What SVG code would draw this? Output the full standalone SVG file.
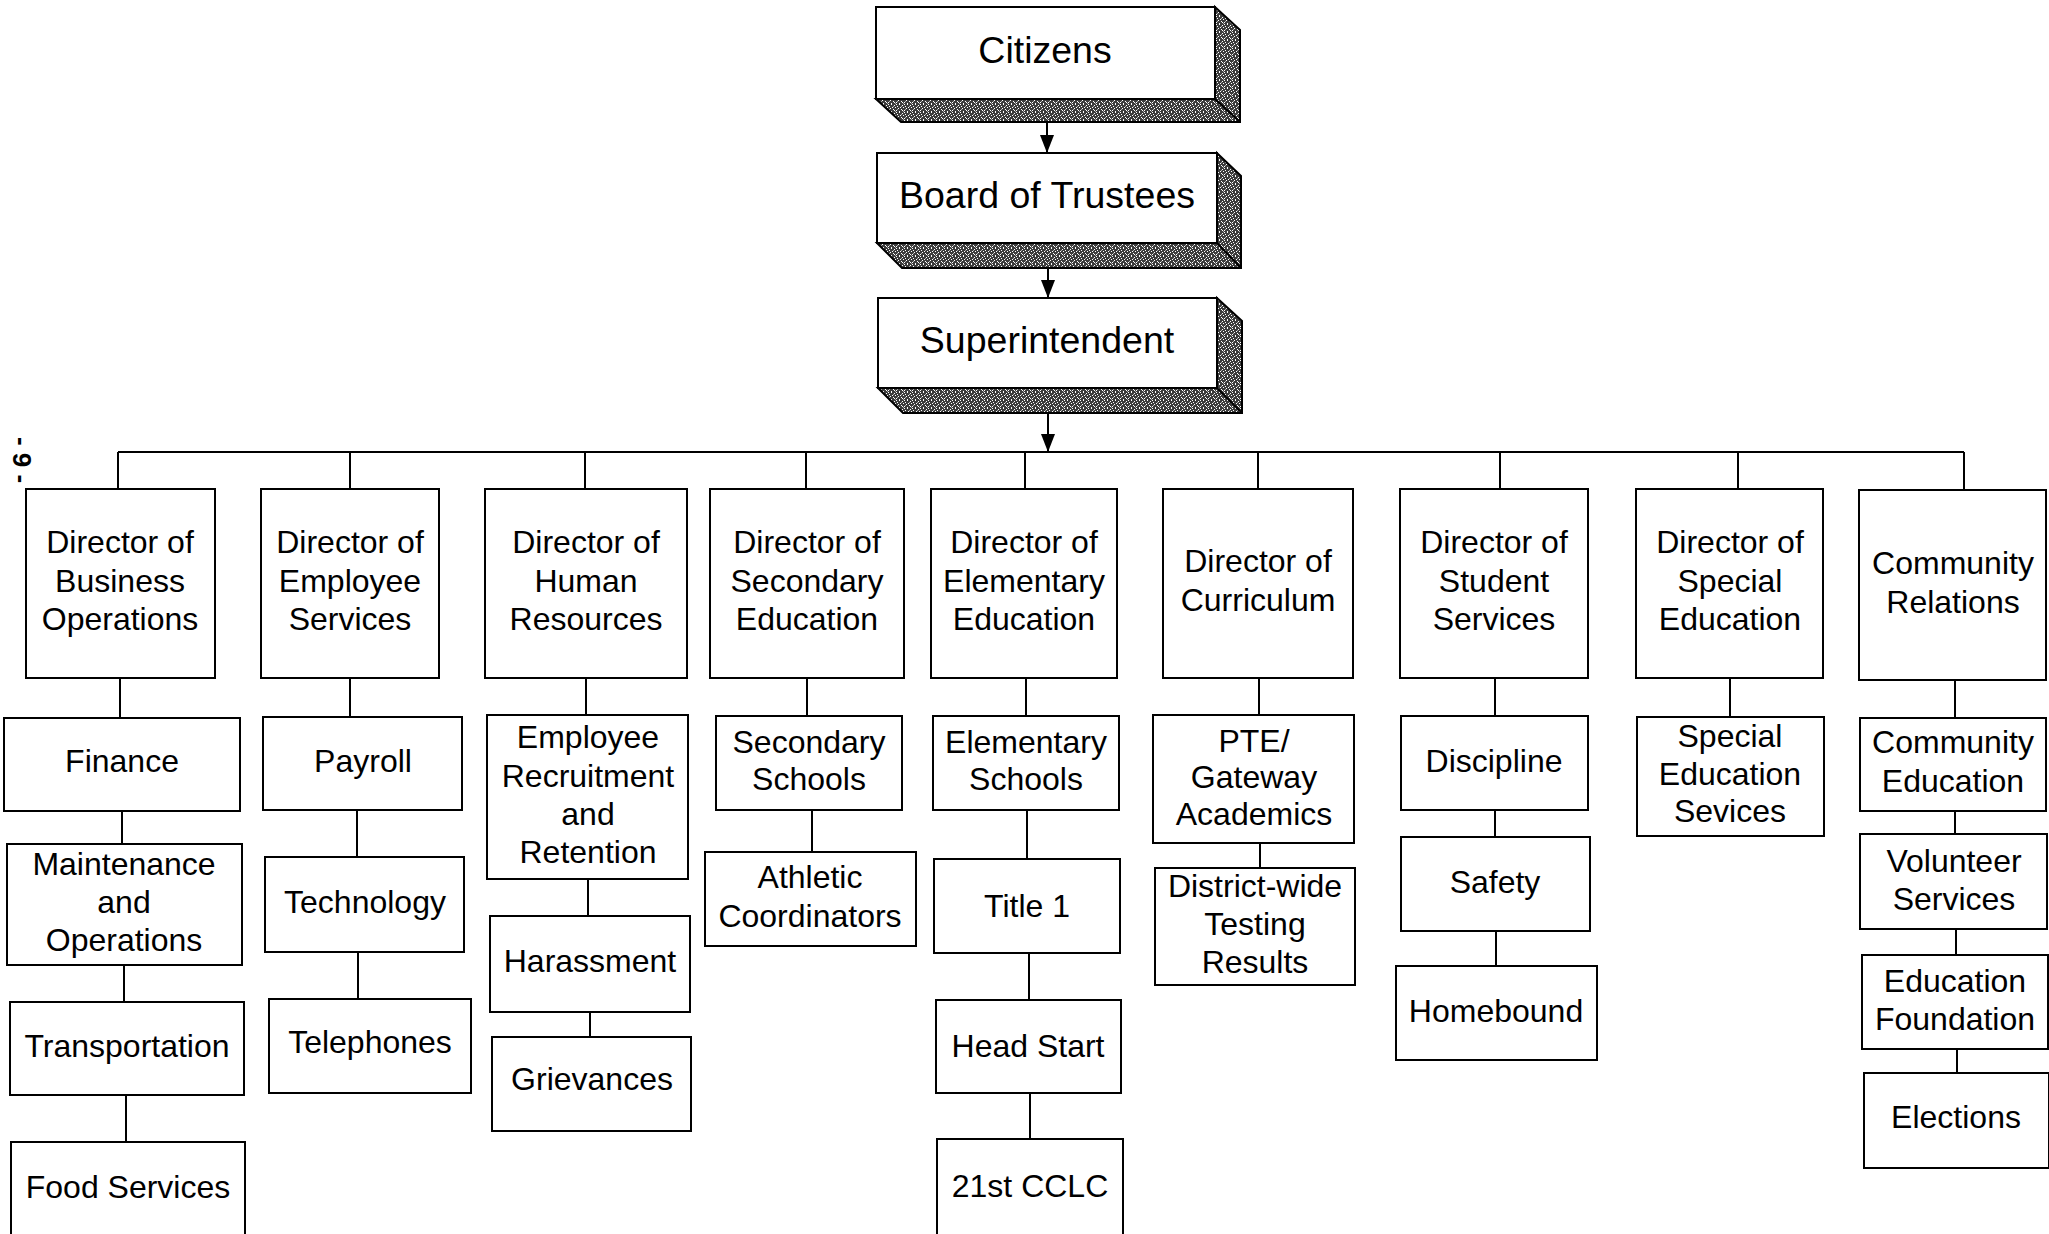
<svg xmlns="http://www.w3.org/2000/svg" width="2049" height="1234" viewBox="0 0 2049 1234">
<style>
.bx{fill:#fff;stroke:#000;stroke-width:2}
.t{font-family:"Liberation Sans",Arial,sans-serif;font-size:32px;fill:#000;text-anchor:middle}
.tt{font-family:"Liberation Sans",Arial,sans-serif;font-size:37.5px;fill:#000;text-anchor:middle}
.ln{stroke:#000;stroke-width:2;fill:none}
.sh{fill:url(#noise);stroke:#000;stroke-width:2;stroke-linejoin:miter}
</style>
<defs>
<pattern id="noise" width="8" height="8" patternUnits="userSpaceOnUse">
<rect width="8" height="8" fill="#3c3c3c"/>
<rect x="0" y="0" width="1" height="1" fill="#fff"/>
<rect x="3" y="0" width="1" height="1" fill="#fff"/>
<rect x="6" y="1" width="1" height="1" fill="#fff"/>
<rect x="1" y="2" width="1" height="1" fill="#fff"/>
<rect x="4" y="3" width="1" height="1" fill="#fff"/>
<rect x="7" y="3" width="1" height="1" fill="#fff"/>
<rect x="2" y="4" width="1" height="1" fill="#fff"/>
<rect x="5" y="5" width="1" height="1" fill="#fff"/>
<rect x="0" y="6" width="1" height="1" fill="#fff"/>
<rect x="3" y="7" width="1" height="1" fill="#fff"/>
<rect x="6" y="6" width="1" height="1" fill="#fff"/>
<rect x="1" y="5" width="1" height="1" fill="#aaa"/>
<rect x="5" y="2" width="1" height="1" fill="#aaa"/>
<rect x="7" y="7" width="1" height="1" fill="#aaa"/>
</pattern>
<marker id="arr" viewBox="0 0 18 14" refX="18" refY="7" markerWidth="18" markerHeight="14" markerUnits="userSpaceOnUse" orient="auto">
<path d="M0,0 L18,7 L0,14 Z" fill="#000"/>
</marker>
</defs>

<text class="t" style="font-size:26px;font-weight:bold" transform="translate(20,460) rotate(90)" dominant-baseline="middle">- 9 -</text>

<g id="connectors">
<path class="ln" d="M1047,122 L1047,153" marker-end="url(#arr)"/>
<path class="ln" d="M1048,268 L1048,298" marker-end="url(#arr)"/>
<path class="ln" d="M1048,413 L1048,452" marker-end="url(#arr)"/>
<path class="ln" d="M118,452 H1964"/>
<path class="ln" d="M118,452 V489 M350,452 V489 M585,452 V489 M806,452 V489 M1025,452 V489 M1258,452 V489 M1500,452 V489 M1738,452 V489 M1964,452 V490"/>
<path class="ln" d="M120,678 V718 M122,811 V844 M124,965 V1002 M126,1095 V1142"/>
<path class="ln" d="M350,678 V717 M357,810 V857 M358,952 V999"/>
<path class="ln" d="M586,678 V715 M588,879 V916 M590,1012 V1037"/>
<path class="ln" d="M807,678 V716 M812,810 V852"/>
<path class="ln" d="M1026,678 V716 M1027,810 V859 M1029,953 V1000 M1030,1093 V1139"/>
<path class="ln" d="M1259,678 V715 M1260,843 V868"/>
<path class="ln" d="M1495,678 V716 M1495,810 V837 M1496,931 V966"/>
<path class="ln" d="M1730,678 V717"/>
<path class="ln" d="M1955,680 V718 M1955,811 V834 M1956,929 V955 M1957,1049 V1073"/>
</g>

<g id="citizens">
<path class="sh" d="M876,99 L901,122 L1240,122 L1240,30 L1215,7 L1215,99 Z"/>
<path class="ln" d="M1215,99 L1240,122"/>
<rect class="bx" x="876" y="7" width="339" height="92"/>
<text class="tt" x="1045" y="63">Citizens</text>
</g>
<g id="board">
<path class="sh" d="M877,243 L902,268 L1241,268 L1241,176 L1217,153 L1217,243 Z"/>
<path class="ln" d="M1217,243 L1241,268"/>
<rect class="bx" x="877" y="153" width="340" height="90"/>
<text class="tt" x="1047" y="208">Board of Trustees</text>
</g>
<g id="superintendent">
<path class="sh" d="M878,388 L903,413 L1242,413 L1242,321 L1217,298 L1217,388 Z"/>
<path class="ln" d="M1217,388 L1242,413"/>
<rect class="bx" x="878" y="298" width="339" height="90"/>
<text class="tt" x="1047" y="353">Superintendent</text>
</g>

<g id="dir-business">
<rect class="bx" x="26" y="489" width="189" height="189"/>
<text class="t" x="120" y="553">Director of</text>
<text class="t" x="120" y="592">Business</text>
<text class="t" x="120" y="630">Operations</text>
</g>
<g id="dir-employee">
<rect class="bx" x="261" y="489" width="178" height="189"/>
<text class="t" x="350" y="553">Director of</text>
<text class="t" x="350" y="592">Employee</text>
<text class="t" x="350" y="630">Services</text>
</g>
<g id="dir-hr">
<rect class="bx" x="485" y="489" width="202" height="189"/>
<text class="t" x="586" y="553">Director of</text>
<text class="t" x="586" y="592">Human</text>
<text class="t" x="586" y="630">Resources</text>
</g>
<g id="dir-secondary">
<rect class="bx" x="710" y="489" width="194" height="189"/>
<text class="t" x="807" y="553">Director of</text>
<text class="t" x="807" y="592">Secondary</text>
<text class="t" x="807" y="630">Education</text>
</g>
<g id="dir-elementary">
<rect class="bx" x="931" y="489" width="186" height="189"/>
<text class="t" x="1024" y="553">Director of</text>
<text class="t" x="1024" y="592">Elementary</text>
<text class="t" x="1024" y="630">Education</text>
</g>
<g id="dir-curriculum">
<rect class="bx" x="1163" y="489" width="190" height="189"/>
<text class="t" x="1258" y="572">Director of</text>
<text class="t" x="1258" y="611">Curriculum</text>
</g>
<g id="dir-student">
<rect class="bx" x="1400" y="489" width="188" height="189"/>
<text class="t" x="1494" y="553">Director of</text>
<text class="t" x="1494" y="592">Student</text>
<text class="t" x="1494" y="630">Services</text>
</g>
<g id="dir-special">
<rect class="bx" x="1636" y="489" width="187" height="189"/>
<text class="t" x="1730" y="553">Director of</text>
<text class="t" x="1730" y="592">Special</text>
<text class="t" x="1730" y="630">Education</text>
</g>
<g id="community-relations">
<rect class="bx" x="1859" y="490" width="187" height="190"/>
<text class="t" x="1953" y="574">Community</text>
<text class="t" x="1953" y="613">Relations</text>
</g>

<g id="finance">
<rect class="bx" x="4" y="718" width="236" height="93"/>
<text class="t" x="122" y="772">Finance</text>
</g>
<g id="maintenance">
<rect class="bx" x="7" y="844" width="235" height="121"/>
<text class="t" x="124" y="875">Maintenance</text>
<text class="t" x="124" y="913">and</text>
<text class="t" x="124" y="951">Operations</text>
</g>
<g id="transportation">
<rect class="bx" x="10" y="1002" width="234" height="93"/>
<text class="t" x="127" y="1057">Transportation</text>
</g>
<g id="food-services">
<rect class="bx" x="11" y="1142" width="234" height="100"/>
<text class="t" x="128" y="1198">Food Services</text>
</g>

<g id="payroll">
<rect class="bx" x="263" y="717" width="199" height="93"/>
<text class="t" x="363" y="772">Payroll</text>
</g>
<g id="technology">
<rect class="bx" x="265" y="857" width="199" height="95"/>
<text class="t" x="365" y="913">Technology</text>
</g>
<g id="telephones">
<rect class="bx" x="269" y="999" width="202" height="94"/>
<text class="t" x="370" y="1053">Telephones</text>
</g>

<g id="recruitment">
<rect class="bx" x="487" y="715" width="201" height="164"/>
<text class="t" x="588" y="748">Employee</text>
<text class="t" x="588" y="787">Recruitment</text>
<text class="t" x="588" y="825">and</text>
<text class="t" x="588" y="863">Retention</text>
</g>
<g id="harassment">
<rect class="bx" x="490" y="916" width="200" height="96"/>
<text class="t" x="590" y="972">Harassment</text>
</g>
<g id="grievances">
<rect class="bx" x="492" y="1037" width="199" height="94"/>
<text class="t" x="592" y="1090">Grievances</text>
</g>

<g id="secondary-schools">
<rect class="bx" x="716" y="716" width="186" height="94"/>
<text class="t" x="809" y="753">Secondary</text>
<text class="t" x="809" y="790">Schools</text>
</g>
<g id="athletic">
<rect class="bx" x="705" y="852" width="211" height="94"/>
<text class="t" x="810" y="888">Athletic</text>
<text class="t" x="810" y="927">Coordinators</text>
</g>

<g id="elementary-schools">
<rect class="bx" x="933" y="716" width="186" height="94"/>
<text class="t" x="1026" y="753">Elementary</text>
<text class="t" x="1026" y="790">Schools</text>
</g>
<g id="title1">
<rect class="bx" x="934" y="859" width="186" height="94"/>
<text class="t" x="1027" y="917">Title 1</text>
</g>
<g id="head-start">
<rect class="bx" x="936" y="1000" width="185" height="93"/>
<text class="t" x="1028" y="1057">Head Start</text>
</g>
<g id="cclc">
<rect class="bx" x="937" y="1139" width="186" height="103"/>
<text class="t" x="1030" y="1197">21st CCLC</text>
</g>

<g id="pte">
<rect class="bx" x="1153" y="715" width="201" height="128"/>
<text class="t" x="1254" y="752">PTE/</text>
<text class="t" x="1254" y="788">Gateway</text>
<text class="t" x="1254" y="825">Academics</text>
</g>
<g id="testing">
<rect class="bx" x="1155" y="868" width="200" height="117"/>
<text class="t" x="1255" y="897">District-wide</text>
<text class="t" x="1255" y="935">Testing</text>
<text class="t" x="1255" y="973">Results</text>
</g>

<g id="discipline">
<rect class="bx" x="1401" y="716" width="187" height="94"/>
<text class="t" x="1494" y="772">Discipline</text>
</g>
<g id="safety">
<rect class="bx" x="1401" y="837" width="189" height="94"/>
<text class="t" x="1495" y="893">Safety</text>
</g>
<g id="homebound">
<rect class="bx" x="1396" y="966" width="201" height="94"/>
<text class="t" x="1496" y="1022">Homebound</text>
</g>

<g id="special-services">
<rect class="bx" x="1637" y="717" width="187" height="119"/>
<text class="t" x="1730" y="747">Special</text>
<text class="t" x="1730" y="785">Education</text>
<text class="t" x="1730" y="822">Sevices</text>
</g>

<g id="community-education">
<rect class="bx" x="1860" y="718" width="186" height="93"/>
<text class="t" x="1953" y="753">Community</text>
<text class="t" x="1953" y="792">Education</text>
</g>
<g id="volunteer">
<rect class="bx" x="1860" y="834" width="187" height="95"/>
<text class="t" x="1954" y="872">Volunteer</text>
<text class="t" x="1954" y="910">Services</text>
</g>
<g id="foundation">
<rect class="bx" x="1862" y="955" width="186" height="94"/>
<text class="t" x="1955" y="992">Education</text>
<text class="t" x="1955" y="1030">Foundation</text>
</g>
<g id="elections">
<rect class="bx" x="1864" y="1073" width="185" height="95"/>
<text class="t" x="1956" y="1128">Elections</text>
</g>
</svg>
